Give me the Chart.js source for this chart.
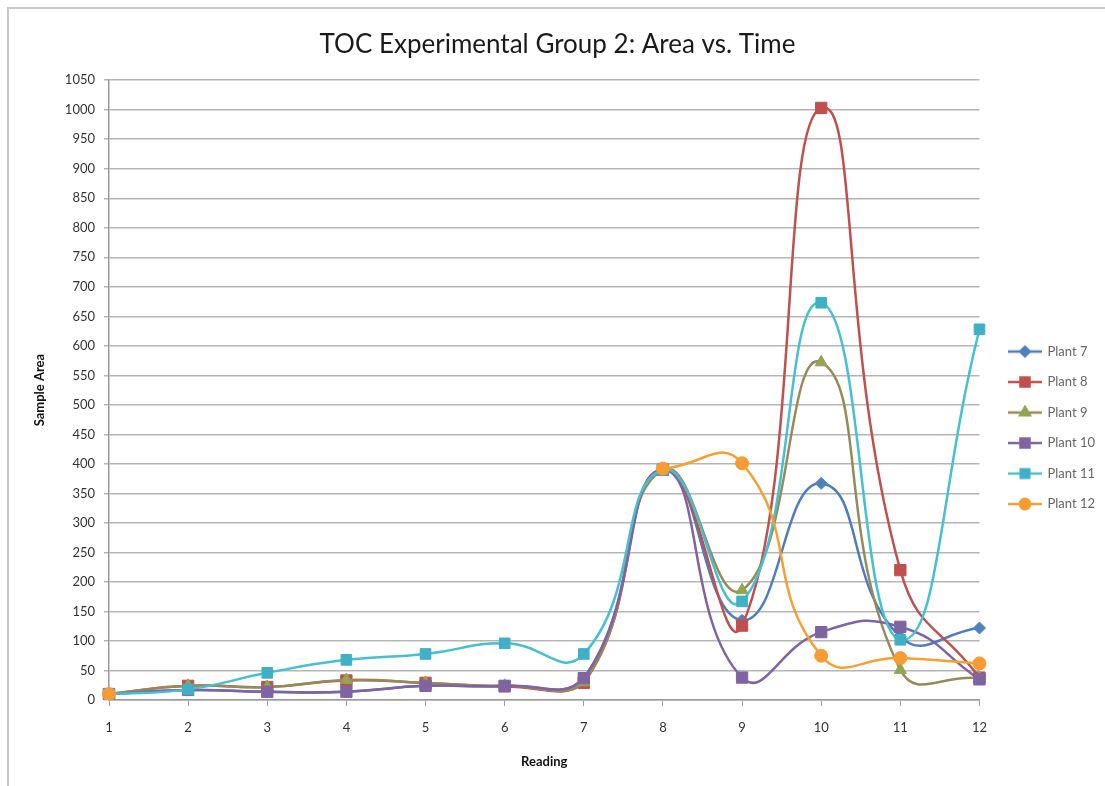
<!DOCTYPE html>
<html>
<head>
<meta charset="utf-8">
<title>TOC Experimental Group 2</title>
<script src="https://cdn.jsdelivr.net/npm/chart.js@4/dist/chart.umd.min.js"></script>
<style>
  html, body { margin: 0; padding: 0; background: #fff; }
  #wrap { position: relative; width: 1105px; height: 786px; }
  #frame {
    position: absolute; left: 7px; top: 7px; right: 0; bottom: 0;
    border-top: 2px solid #c9c9c9; border-left: 2px solid #c9c9c9;
  }
  canvas { position: absolute; left: 0; top: 0; }
</style>
</head>
<body>
<div id="wrap">
  <div id="frame"></div>
  <canvas id="chart" width="1105" height="786"></canvas>
</div>
<script>
// readings on the x axis
var readings = ['1', '2', '3', '4', '5', '6', '7', '8', '9', '10', '11', '12'];

// sample area per plant
var plant7  = [10, 17, 14, 14, 24, 24, 37, 390, 135, 367, 107, 122];
var plant8  = [10, 24, 22, 33, 29, 23, 29, 390, 126, 1003, 220, 38];
var plant9  = [10, 24, 22, 34, 29, 24, 30, 390, 186, 572, 51, 37];
var plant10 = [10, 17, 14, 14, 24, 24, 37, 390, 38, 115, 124, 35];
var plant11 = [10, 18, 46, 68, 78, 96, 78, 390, 167, 673, 102, 628];
var plant12 = [10, null, null, null, null, null, null, 392, 401, 75, 71, 62];

var seriesNames = ['Plant 7', 'Plant 8', 'Plant 9', 'Plant 10', 'Plant 11', 'Plant 12'];
var seriesData = [plant7, plant8, plant9, plant10, plant11, plant12];
var lineColors = ['#4e7cbf', '#c0504d', '#978a5a', '#7f63a3', '#45c0d0', '#f6a02f'];
var markColors = ['#4f81bd', '#c0504d', '#93a453', '#8064a2', '#3fb0c6', '#f79c32'];
var markStyles = ['rectRot', 'rect', 'triangle', 'rect', 'rect', 'circle'];
var markSizes = [6, 8, 7, 8, 7.5, 6.5];

const FONT = 'Lato, "Open Sans", sans-serif';

// little line + marker picture for the legend
const legendIcon = (i) => {
    var c = document.createElement('canvas');
    c.width = 46;
    c.height = 16;
    var ctx = c.getContext('2d');
    ctx.strokeStyle = lineColors[i];
    ctx.lineWidth = 2.5;
    ctx.beginPath();
    ctx.moveTo(12, 8);
    ctx.lineTo(46, 8);
    ctx.stroke();
    ctx.fillStyle = markColors[i];
    ctx.strokeStyle = markColors[i];
    Chart.helpers.drawPoint(ctx, {
        pointStyle: markStyles[i],
        radius: markSizes[i] * 0.8,
        borderWidth: 1
    }, 29, 8);
    return c;
}

var datasets = seriesNames.map((name, i) => ({
    label: name,
    data: seriesData[i],
    borderColor: lineColors[i],
    backgroundColor: markColors[i],
    pointBackgroundColor: markColors[i],
    pointBorderColor: markColors[i],
    pointStyle: markStyles[i],
    pointRadius: markSizes[i],
    pointBorderWidth: 1,
    borderWidth: 2.5,
    tension: 0.5,
    spanGaps: false,
    order: seriesNames.length - i    // later plants on top, like Excel
}));

new Chart(document.getElementById('chart'), {
    type: 'line',
    data: {
        labels: readings,
        datasets: datasets
    },
    options: {
        responsive: false,
        animation: false,
        layout: { padding: { left: 10, right: 0, top: 0, bottom: 0 } },
        plugins: {
            tooltip: { enabled: false },
            title: {
                display: true,
                text: 'TOC Experimental Group 2: Area vs. Time',
                color: '#1a1a1a',
                font: { family: FONT, size: 26, weight: 'normal' },
                padding: { top: 29, bottom: 20 }
            },
            legend: {
                position: 'right',
                // empty title only pushes the entries down a bit
                title: { display: true, text: ' ', font: { size: 13 }, padding: 27 },
                labels: {
                    color: '#222',
                    font: { family: FONT, size: 13 },
                    usePointStyle: true,
                    pointStyleWidth: 44,
                    padding: 17.5,
                    generateLabels: (chart) => chart.data.datasets.map((ds, i) => ({
                        text: ds.label,
                        pointStyle: legendIcon(i),
                        fillStyle: ds.borderColor,
                        strokeStyle: ds.borderColor,
                        lineWidth: 0,
                        hidden: false,
                        datasetIndex: i
                    }))
                }
            }
        },
        scales: {
            x: {
                type: 'category',
                offset: false,
                grid: { drawOnChartArea: false, drawTicks: true, tickLength: 6, color: '#9a9a9a' },
                border: { color: '#9a9a9a', width: 1.5 },
                ticks: { color: '#333', font: { family: FONT, size: 13 }, padding: 14, maxRotation: 0 },
                title: {
                    display: true,
                    text: 'Reading',
                    color: '#111',
                    font: { family: FONT, size: 13, weight: 'bold' },
                    padding: { top: 0, bottom: 16 }
                },
                afterFit: (s) => { s.height = 86; }
            },
            y: {
                min: 0,
                max: 1050,
                grid: { color: '#b5b5b5', lineWidth: 1.5, tickLength: 5 },
                border: { color: '#9a9a9a', width: 1.5 },
                ticks: {
                    stepSize: 50,
                    color: '#333',
                    font: { family: FONT, size: 13 },
                    padding: 9,
                    callback: (v) => String(v)
                },
                title: {
                    display: true,
                    text: 'Sample Area',
                    color: '#111',
                    font: { family: FONT, size: 13, weight: 'bold' },
                    padding: { top: 22, bottom: 0 }
                },
                afterFit: (s) => { s.width = 99; }
            }
        }
    }
});
</script>
</body>
</html>
